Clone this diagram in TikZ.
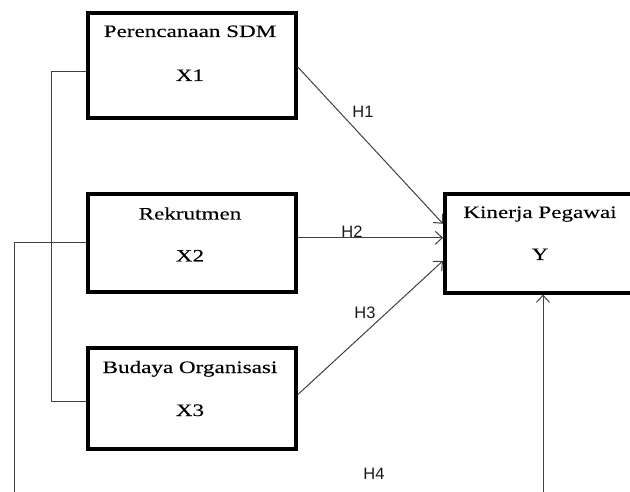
\documentclass[tikz,border=0pt]{standalone}
\usepackage{fontspec}
\setmainfont[FakeStretch=1.32,FakeBold=0.12]{Liberation Serif}
\newfontfamily\lblfont{Liberation Sans}
\usetikzlibrary{arrows.meta,positioning,calc}
\begin{document}
\begin{tikzpicture}[x=1pt,y=-1pt,
  varbox/.style={draw=black,line width=3.6pt,inner sep=0pt,anchor=north west},
  boxtxt/.style={anchor=base,inner sep=0pt,font=\fontsize{17.5}{20}\selectfont,text=black},
  hlabel/.style={anchor=base,inner sep=0pt,font=\lblfont\fontsize{16.5}{18}\selectfont,text=black!90},
  conn/.style={draw=black!75,line width=1pt},
  arr/.style={conn,-{Straight Barb[length=7pt,width=13pt,line width=1pt]}}]
\useasboundingbox (0,0) rectangle (630,492);
% boxes
\node[varbox,minimum width=208pt,minimum height=105pt] (x1) at (86,11) {};
\node[varbox,minimum width=208pt,minimum height=98pt] (x2) at (86,192) {};
\node[varbox,minimum width=208pt,minimum height=101pt] (x3) at (86,346) {};
\node[varbox,minimum width=194pt,minimum height=99pt] (y) at (443,192) {};
% box texts
\node[boxtxt] (x1t) at (190,37) {Perencanaan SDM};
\node[boxtxt] (x1v) at (190,81) {X1};
\node[boxtxt] (x2t) at (190,219.5) {Rekrutmen};
\node[boxtxt] (x2v) at (190,261.5) {X2};
\node[boxtxt] (x3t) at (190,373) {Budaya Organisasi};
\node[boxtxt] (x3v) at (190,416) {X3};
\node[boxtxt] (yt) at (540,218) {Kinerja Pegawai};
\node[boxtxt] (yv) at (540,260) {Y};
% arrows
\draw[arr] ([yshift=-1.5pt]x1.east) -- ([yshift=19.5pt]y.west);
\draw[arr] ([yshift=5pt]x2.east) -- ([yshift=5.5pt]y.west);
\draw[arr] ([yshift=3.5pt]x3.east) -- ([yshift=-17.5pt]y.west);
% side connectors
\draw[conn] ([yshift=-6.5pt]x1.west) -- ++(-35,0) |- ([yshift=-3.5pt]x3.west);
\coordinate (b1) at (14,497);
\coordinate (b2) at (543,497);
\draw[conn] (x2.west) -| (b1);
\draw[arr] (b2) -- (b2 |- y.south);
% labels
\node[hlabel] (h1) at (363,117.5) {H1};
\node[hlabel] (h2) at (352,237.5) {H2};
\node[hlabel] (h3) at (365,318.5) {H3};
\node[hlabel] (h4) at (374,479) {H4};
\end{tikzpicture}
\end{document}
